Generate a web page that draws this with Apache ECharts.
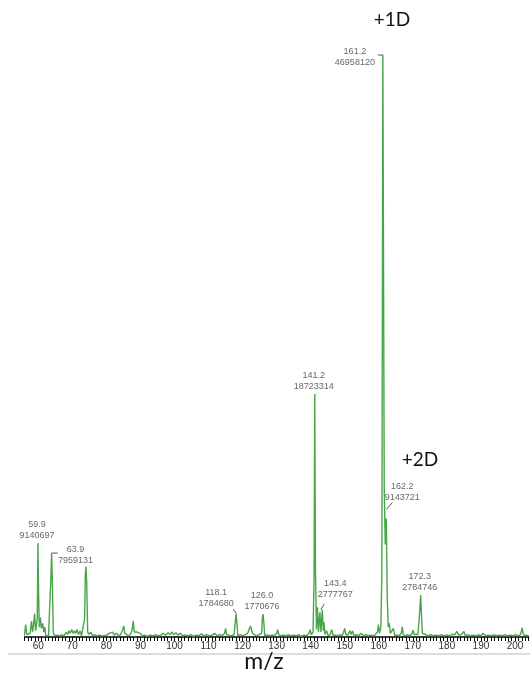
<!DOCTYPE html>
<html>
<head>
<meta charset="utf-8">
<script src="https://cdn.jsdelivr.net/npm/echarts@6/dist/echarts.min.js"></script>
<style>
    html, body { margin: 0; padding: 0; background: #fff; }
    #spectrum { width: 530px; height: 677px; }
</style>
</head>
<body>
<div id="spectrum"></div>
<script>
// profile trace, m/z and intensity (millions of counts)
var profileMz = [
    55.8, 56.0, 56.3, 56.6, 57.0, 57.6, 58.0, 58.3, 58.6, 58.9, 59.2, 59.5, 59.7, 59.9, 60.1, 60.3, 60.6, 60.9,
    61.3, 61.6, 61.9, 62.2, 62.6, 63.0, 63.5, 63.75, 63.9, 64.1, 64.4, 64.8, 65.5, 66.2, 66.9, 67.5, 68.2, 68.6,
    69.0, 69.4, 69.8, 70.2, 70.6, 71.0, 71.4, 71.8, 72.3, 72.7, 73.2, 73.6, 73.8, 74.0, 74.2, 74.5, 74.9, 75.4,
    75.9, 76.5, 77.2, 77.9, 78.6, 79.3, 80.0, 80.8, 81.3, 81.8, 82.3, 83.0, 83.6, 84.2, 84.8, 85.1, 85.4, 85.9,
    86.4, 87.0, 87.5, 87.9, 88.2, 88.6, 89.0, 89.4, 89.8, 90.3, 90.7, 91.3, 92.0, 92.8, 93.6, 94.4, 95.2, 96.0,
    96.7, 97.4, 98.1, 98.7, 99.3, 99.8, 100.4, 101.0, 101.7, 102.4, 103.2, 104.0, 104.8, 105.6, 106.3, 107.1,
    107.9, 108.6, 109.4, 110.2, 111.0, 111.8, 112.5, 113.3, 114.0, 114.7, 115.0, 115.3, 116.0, 116.8, 117.5,
    117.9, 118.1, 118.3, 118.6, 119.3, 120.0, 120.8, 121.5, 121.9, 122.3, 122.6, 122.9, 123.4, 124.0, 124.8,
    125.6, 125.8, 126.0, 126.2, 126.5, 127.2, 127.9, 128.6, 129.3, 130.0, 130.3, 130.6, 131.2, 132.0, 132.7,
    133.4, 134.2, 135.0, 135.8, 136.5, 137.2, 138.0, 138.8, 139.5, 139.8, 140.2, 140.7, 141.0, 141.2, 141.4,
    141.7, 142.0, 142.3, 142.7, 143.0, 143.4, 143.7, 143.9, 144.2, 144.7, 145.1, 145.7, 146.2, 146.6, 147.3,
    148.0, 148.7, 149.3, 150.0, 150.3, 150.9, 151.5, 151.9, 152.3, 152.7, 153.4, 154.1, 154.8, 155.5, 156.2,
    156.9, 157.6, 158.3, 159.0, 159.6, 159.9, 160.2, 160.6, 160.9, 161.2, 161.6, 161.9, 162.2, 162.5, 162.8,
    163.1, 163.4, 163.8, 164.3, 164.7, 165.3, 166.0, 166.6, 166.9, 167.2, 167.8, 168.5, 169.2, 169.8, 170.1,
    170.4, 170.9, 171.5, 172.0, 172.3, 172.5, 172.8, 173.2, 173.8, 174.5, 175.2, 176.0, 176.8, 177.6, 178.4,
    179.2, 180.0, 180.8, 181.5, 181.9, 182.4, 182.9, 183.5, 184.2, 185.0, 185.4, 186.1, 186.9, 187.7, 188.5,
    189.3, 190.0, 190.6, 191.0, 191.5, 192.2, 193.0, 193.8, 194.6, 195.4, 196.2, 197.0, 197.8, 198.6, 199.4,
    200.2, 201.0, 201.6, 201.9, 202.1, 202.3, 202.7, 203.3, 204.0
];
var profileIntensity = [
    0.1, 0.3, 1.0, 0.2, 0.1, 0.3, 1.3, 0.4, 1.0, 1.9, 0.5, 0.6, 1.5, 7.6, 3.2, 0.8, 1.6, 0.7,
    1.1, 0.4, 0.8, 0.1, 0.2, 0.1, 0.2, 5.2, 6.8, 4.8, 0.3, 0.1, 0.15, 0.1, 0.2, 0.1, 0.4, 0.2,
    0.5, 0.3, 0.6, 0.3, 0.5, 0.3, 0.6, 0.2, 0.5, 0.1, 0.2, 1.5, 5.0, 5.7, 4.5, 0.4, 0.2, 0.4,
    0.1, 0.2, 0.1, 0.15, 0.1, 0.1, 0.15, 0.3, 0.2, 0.4, 0.15, 0.3, 0.1, 0.2, 0.6, 0.9, 0.3, 0.4,
    0.1, 0.2, 0.5, 1.3, 0.4, 0.5, 0.4, 0.5, 0.3, 0.4, 0.1, 0.15, 0.05, 0.15, 0.1, 0.2, 0.1, 0.15,
    0.3, 0.15, 0.35, 0.2, 0.4, 0.2, 0.35, 0.15, 0.3, 0.1, 0.15, 0.1, 0.2, 0.05, 0.15, 0.1,
    0.25, 0.1, 0.2, 0.1, 0.15, 0.3, 0.1, 0.2, 0.1, 0.3, 0.7, 0.2, 0.15, 0.1, 0.2,
    1.4, 1.9, 1.2, 0.1, 0.2, 0.1, 0.2, 0.3, 0.6, 0.9, 0.8, 0.3, 0.2, 0.1, 0.2,
    0.3, 1.5, 1.85, 1.3, 0.1, 0.2, 0.1, 0.15, 0.1, 0.3, 0.6, 0.2, 0.1, 0.15, 0.1,
    0.2, 0.1, 0.15, 0.1, 0.2, 0.05, 0.15, 0.1, 0.3, 0.6, 0.2, 0.4, 5.0, 19.7, 5.5,
    0.6, 2.4, 0.4, 2.0, 0.4, 2.2, 0.5, 1.2, 0.2, 0.5, 0.1, 0.2, 0.6, 0.1, 0.15,
    0.1, 0.2, 0.1, 0.7, 0.2, 0.15, 0.5, 0.2, 0.5, 0.1, 0.2, 0.1, 0.3, 0.1, 0.2,
    0.1, 0.15, 0.1, 0.2, 0.4, 1.0, 0.3, 0.8, 5.0, 47.0, 12.0, 7.5, 9.6, 3.0, 0.8,
    1.1, 0.3, 0.4, 0.7, 0.1, 0.15, 0.1, 0.3, 0.85, 0.2, 0.1, 0.2, 0.1, 0.3, 0.55,
    0.2, 0.1, 0.2, 2.0, 3.4, 2.0, 0.3, 0.15, 0.2, 0.1, 0.2, 0.1, 0.15, 0.1, 0.2,
    0.1, 0.15, 0.1, 0.2, 0.35, 0.2, 0.45, 0.15, 0.2, 0.45, 0.1, 0.2, 0.1, 0.15, 0.1,
    0.2, 0.1, 0.3, 0.35, 0.1, 0.15, 0.1, 0.2, 0.1, 0.15, 0.1, 0.2, 0.1, 0.15, 0.1,
    0.2, 0.1, 0.2, 0.5, 0.75, 0.4, 0.1, 0.15, 0.1
];

// labelled peaks
var peakMz = [59.9, 63.9, 118.1, 126.0, 141.2, 143.4, 161.2, 162.2, 172.3];
var peakHeight = [7.6, 6.8, 1.9, 1.85, 19.7, 2.2, 47.0, 9.6, 3.4];
var peakText = ['59.9', '63.9', '118.1', '126.0', '141.2', '143.4', '161.2', '162.2', '172.3'];
var peakCounts = ['9140697', '7959131', '1784680', '1770676', '18723314', '2777767', '46958120', '9143721', '2784746'];

// where each label sits, in px from the apex
var labelShift = [[-1, -2], [24, 13], [-20, -5], [-1, -2], [-1, -2], [13, -10], [-28, 11], [16, -16], [-1, -2]];
// little leader strokes from apex to label
var leaders = [
    { peak: 1, path: [[0, 0], [6, 0]] },
    { peak: 2, path: [[-3, -4.5], [0, -0.5]] },
    { peak: 5, path: [[-1.5, 0], [2, -6]] },
    { peak: 6, path: [[-5, -2], [0, -2], [0, 0]] },
    { peak: 7, path: [[0, -9], [6, -16]] }
];

var chart = echarts.init(document.getElementById('spectrum'), null, { renderer: 'canvas' });

var trace = profileMz.map(function (mz, i) { return [mz, profileIntensity[i]]; });

var labelPoints = peakMz.map(function (mz, i) {
    return {
        value: [mz, peakHeight[i]],
        label: { offset: labelShift[i] }
    };
});

chart.setOption({
    animation: false,
    backgroundColor: '#fff',
    grid: { left: 24.7, right: 1.4, top: 57, bottom: 40, outerBoundsMode: 'none', containLabel: false },
    xAxis: {
        type: 'value',
        min: 56,
        max: 204,
        interval: 1,
        axisLine: { lineStyle: { color: '#000', width: 1.5 } },
        axisTick: { length: 4, lineStyle: { color: '#000' } },
        axisLabel: {
            margin: 4,
            fontFamily: 'Liberation Sans',
            fontSize: 10,
            color: '#333',
            formatter: function (v) { return v % 10 === 0 ? String(v) : ''; }
        },
        splitLine: { show: false }
    },
    yAxis: { type: 'value', min: 0, max: 47, show: false },
    series: [
        {
            type: 'line',
            data: trace,
            showSymbol: false,
            clip: false,
            lineStyle: { color: '#48a648', width: 1.4 },
            silent: true
        },
        {
            type: 'scatter',
            data: labelPoints,
            symbolSize: 0,
            silent: true,
            label: {
                show: true,
                position: 'top',
                distance: 0,
                align: 'center',
                fontFamily: 'Liberation Sans',
                fontSize: 9,
                lineHeight: 11,
                color: '#404040',
                formatter: function (p) {
                    return peakText[p.dataIndex] + '\n' + peakCounts[p.dataIndex];
                }
            }
        }
    ]
});

var marks = [
    { type: 'line', shape: { x1: 8, y1: 654, x2: 530, y2: 654 }, style: { stroke: '#dcdcdc', lineWidth: 2 }, silent: true },
    { type: 'text', x: 392, y: 20, style: { text: '+1D', fontFamily: 'Lato', fontSize: 19, fill: '#111', align: 'center', verticalAlign: 'middle' } },
    { type: 'text', x: 420, y: 460, style: { text: '+2D', fontFamily: 'Lato', fontSize: 19, fill: '#111', align: 'center', verticalAlign: 'middle' } },
    { type: 'text', x: 264, y: 662, style: { text: 'm/z', fontFamily: 'Lato', fontSize: 23, fill: '#111', align: 'center', verticalAlign: 'middle' } }
];

leaders.forEach(function (ld) {
    var p = chart.convertToPixel({ seriesIndex: 1 }, [peakMz[ld.peak], peakHeight[ld.peak]]);
    marks.push({
        type: 'polyline',
        shape: { points: ld.path.map(function (d) { return [p[0] + d[0], p[1] + d[1]]; }) },
        style: { stroke: '#555', lineWidth: 1, fill: null },
        silent: true
    });
});

chart.setOption({ graphic: marks });
</script>
</body>
</html>
